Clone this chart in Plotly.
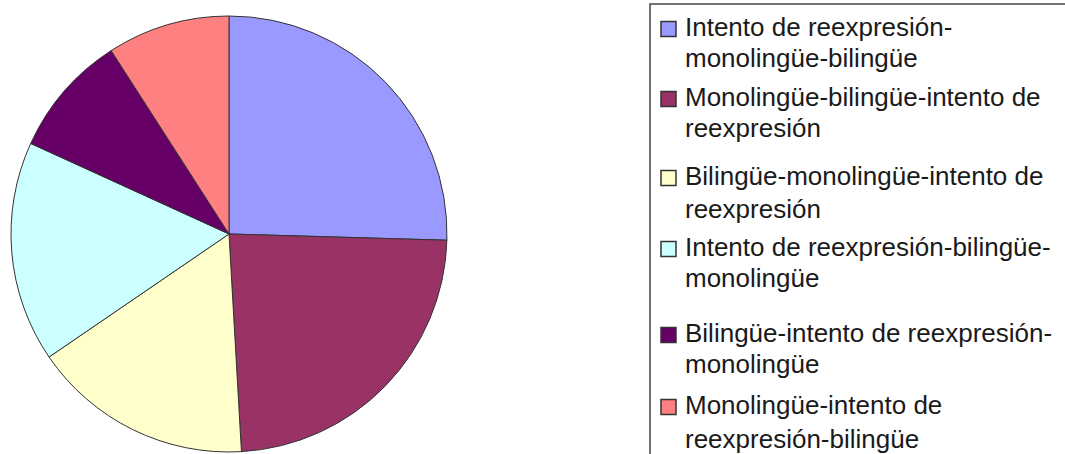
import plotly.graph_objects as go

labels = [
    "Intento de reexpresión-<br>monolingüe-bilingüe",
    "Monolingüe-bilingüe-intento de<br>reexpresión",
    "Bilingüe-monolingüe-intento de<br>reexpresión",
    "Intento de reexpresión-bilingüe-<br>monolingüe",
    "Bilingüe-intento de reexpresión-<br>monolingüe",
    "Monolingüe-intento de<br>reexpresión-bilingüe",
]
values = [14, 13, 9, 9, 5, 5]
colors = ["#9999FF", "#993366", "#FFFFCC", "#CCFFFF", "#660066", "#FF8080"]

# ---- layout constants (pixels) ----
W, H = 1065, 454
PIE_CX, PIE_CY, PIE_R = 229, 234, 218
LEG_BOX = (650, 4, 1075, 470)          # left, top, right, bottom (extends past canvas)
LEG_MARK_X0, LEG_MARK_SIZE = 661, 15
LEG_TEXT_X = 683
LEG_LINE_Y = [(27, 58), (97, 128), (176, 209), (247, 278), (333, 364), (405, 439)]
FONT = "Liberation Sans, Arial, sans-serif"
FS = 26


def px(x):
    return x / W


def py(y):
    return 1 - y / H


fig = go.Figure(go.Pie(
    labels=[l.replace("<br>", " ") for l in labels],
    values=values,
    sort=False,
    direction="clockwise",
    rotation=0,
    textinfo="none",
    hoverinfo="label+value+percent",
    showlegend=False,
    marker=dict(colors=colors, line=dict(color="#333333", width=1)),
    domain=dict(x=[px(PIE_CX - PIE_R), px(PIE_CX + PIE_R)],
                y=[py(PIE_CY + PIE_R), py(PIE_CY - PIE_R)]),
))

shapes = [dict(type="rect", xref="paper", yref="paper",
               x0=px(LEG_BOX[0]), x1=px(LEG_BOX[2]),
               y0=py(LEG_BOX[3]), y1=py(LEG_BOX[1]),
               line=dict(color="#444444", width=1.5), fillcolor="white", layer="below")]
annotations = []
for lab, col, (y1, y2) in zip(labels, colors, LEG_LINE_Y):
    mc = y1 + 2
    shapes.append(dict(type="rect", xref="paper", yref="paper",
                       x0=px(LEG_MARK_X0), x1=px(LEG_MARK_X0 + LEG_MARK_SIZE),
                       y0=py(mc + LEG_MARK_SIZE / 2), y1=py(mc - LEG_MARK_SIZE / 2),
                       line=dict(color="#333333", width=1.5), fillcolor=col))
    for line_text, yy in zip(lab.split("<br>"), (y1, y2)):
        annotations.append(dict(xref="paper", yref="paper", x=px(LEG_TEXT_X), y=py(yy),
                                xanchor="left", yanchor="middle", showarrow=False,
                                text=line_text,
                                font=dict(family=FONT, size=FS, color="#1a1a1a")))

fig.update_layout(
    width=W, height=H,
    margin=dict(l=0, r=0, t=0, b=0),
    paper_bgcolor="white",
    plot_bgcolor="white",
    showlegend=False,
    shapes=shapes,
    annotations=annotations,
)

fig.write_html("out.html", config={"displayModeBar": False},
               post_script="document.body.style.margin='0px';")
